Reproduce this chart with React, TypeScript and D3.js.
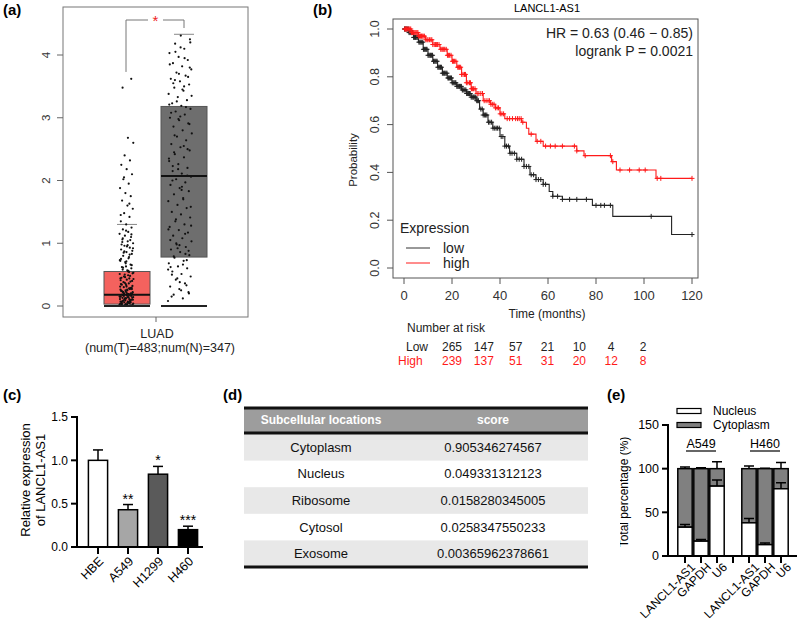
import { useEffect, useRef } from "react";
import * as d3 from "d3";

const FONT = "'Liberation Sans', Arial, Helvetica, sans-serif";

// (a) box plot, tumour vs normal
const boxGroups = ["T", "N"];
const boxFill = ["#f4625e", "#6e6e6e"];
const boxQ1 = [0.03, 0.78];
const boxMedian = [0.18, 2.07];
const boxQ3 = [0.55, 3.18];
const boxUpper = [1.3, 4.33];
const boxTicks = [0, 1, 2, 3, 4];
const tumorPoints = [
  0.02, 0.05, 0.08, 0.1, 0.12, 0.15, 0.18, 0.2, 0.22, 0.25, 0.03, 0.06, 0.09, 0.11, 0.14, 0.17, 0.19, 0.21,
  0.24, 0.27, 0.01, 0.04, 0.07, 0.13, 0.16, 0.23, 0.26, 0.28, 0.3, 0.32, 0.02, 0.05, 0.08, 0.12, 0.15, 0.19,
  0.22, 0.29, 0.33, 0.35, 0.04, 0.06, 0.1, 0.14, 0.18, 0.2, 0.25, 0.31, 0.36, 0.38, 0.4, 0.42, 0.45, 0.48,
  0.5, 0.53, 0.55, 0.58, 0.6, 0.63, 0.41, 0.44, 0.47, 0.52, 0.57, 0.62, 0.66, 0.7, 0.73, 0.76, 0.8, 0.83,
  0.86, 0.9, 0.93, 0.96, 1.0, 1.03, 1.06, 1.1, 0.68, 0.72, 0.78, 0.85, 0.88, 0.95, 0.98, 1.05, 1.12, 1.15,
  1.18, 1.22, 1.25, 1.3, 1.35, 1.42, 1.48, 1.55, 1.6, 1.68, 1.75, 1.8, 1.88, 1.95, 2.02, 2.1, 2.18, 2.25,
  2.32, 2.4, 2.6, 2.68, 3.48, 3.62, 0.03, 0.07, 0.11, 0.16, 0.21, 0.26, 0.34, 0.39, 0.46, 0.51, 0.56, 0.61,
  0.65, 0.71, 0.75, 0.82, 0.87, 0.92, 0.97, 1.02, 0.01, 0.02, 0.04, 0.06, 0.09, 0.13, 0.17, 0.24, 0.28, 0.37,
  0.43, 0.49, 1.08, 1.14, 1.2, 1.45, 1.63, 2.05, 0.02, 0.05, 0.07, 0.1, 0.12, 0.15, 0.18, 0.22, 0.27, 0.31,
  0.03, 0.08, 0.11, 0.14, 0.19, 0.23, 0.29, 0.35, 0.44, 0.54,
];
const normalPoints = [
  0.08, 0.12, 0.18, 0.22, 0.27, 0.31, 0.36, 0.42, 0.47, 0.51, 0.55, 0.6, 0.63, 0.68, 0.72, 0.77, 0.81, 0.86,
  0.9, 0.94, 0.98, 1.03, 1.08, 1.12, 1.17, 1.21, 1.26, 1.3, 1.35, 1.41, 1.46, 1.5, 1.56, 1.61, 1.67, 1.72,
  1.78, 1.83, 1.88, 1.93, 1.97, 2.02, 2.06, 2.11, 2.15, 2.2, 2.26, 2.31, 2.37, 2.42, 2.48, 2.53, 2.58, 2.64,
  2.7, 2.75, 2.8, 2.86, 2.91, 2.96, 3.0, 3.05, 3.1, 3.14, 3.19, 3.23, 3.28, 3.33, 3.38, 3.43, 3.48, 3.53,
  3.58, 3.62, 3.67, 3.72, 3.77, 3.82, 3.87, 3.92, 3.97, 4.03, 4.1, 4.18, 4.25, 4.31, 0.15, 0.33, 0.44, 0.58,
  0.66, 0.79, 0.88, 0.97, 1.05, 1.15, 1.38, 1.58, 1.85, 2.0, 2.08, 2.18, 2.35, 2.55, 2.72, 2.9, 3.02, 3.08,
  3.17, 3.26, 3.35, 3.45, 3.55, 3.65, 3.7, 3.85, 3.95, 4.05, 4.2, 0.25, 0.5, 0.73, 0.92, 1.22, 1.7, 2.45,
  0.2, 0.38, 0.62, 0.83, 1.0, 1.28, 1.9, 2.23, 2.5, 2.98, 3.21, 3.5, 3.6, 3.8, 4.12,
];

// (b) Kaplan-Meier
const kmTicksX = [0, 20, 40, 60, 80, 100, 120];
const kmTicksY = [0, 0.2, 0.4, 0.6, 0.8, 1.0];
const lowTime = [0, 2, 4, 6, 8, 10, 12, 14, 16, 18, 20, 22, 24, 26, 28, 30, 31.5, 33, 35, 37, 40, 42, 44, 47, 50, 52.5, 55, 58, 60.5, 62, 66, 78.5, 87, 111.5];
const lowSurv = [1, 0.985, 0.965, 0.945, 0.915, 0.89, 0.865, 0.84, 0.815, 0.795, 0.775, 0.76, 0.745, 0.73, 0.715, 0.7, 0.665, 0.64, 0.61, 0.585, 0.55, 0.51, 0.48, 0.455, 0.425, 0.39, 0.37, 0.35, 0.32, 0.3, 0.287, 0.262, 0.216, 0.14];
const highTime = [0, 3, 6, 9, 12, 15, 18, 20, 22, 24, 26, 28, 30, 33, 36, 38, 40, 42, 49, 51, 52, 55, 58, 72, 75, 86.5, 88.5, 105];
const highSurv = [1, 0.985, 0.97, 0.955, 0.935, 0.915, 0.89, 0.865, 0.84, 0.81, 0.775, 0.75, 0.73, 0.7, 0.685, 0.67, 0.645, 0.625, 0.61, 0.585, 0.56, 0.53, 0.51, 0.49, 0.47, 0.445, 0.41, 0.375];
const lowCensor = [
  0.2, 0.4, 0.7, 1, 1.4, 1.8, 2.1, 2.5, 2.9, 3.3, 3.6, 4, 4.4, 4.8, 5.1, 5.5, 5.9, 6.2, 6.6, 7, 7.4, 7.8, 8.1,
  8.5, 8.9, 9.3, 9.6, 10, 10.4, 10.8, 11.1, 11.5, 11.9, 12.3, 12.6, 13, 13.4, 13.8, 14.1, 14.5, 14.9, 15.2,
  15.6, 16, 16.4, 16.8, 17.1, 17.5, 17.9, 18.3, 18.6, 19, 19.4, 19.8, 20.1, 20.5, 20.9, 21.3, 21.6, 22, 22.4,
  22.8, 23.1, 23.5, 23.9, 24.3, 24.6, 25, 25.4, 25.8, 26.1, 26.5, 26.9, 27.3, 27.6, 28, 28.4, 28.8, 29.1,
  29.5, 29.9, 30.3, 30.7, 31, 32, 32.6, 33, 33.6, 34, 34.5, 35.2, 35.8, 36.5, 37.1, 37.8, 38.4, 39, 39.7,
  40.5, 41.2, 42, 42.7, 43.5, 44.2, 45, 46, 47, 48, 49, 50, 51, 52, 53, 54, 55, 56, 57, 58, 59, 62, 64, 66,
  69, 72, 76, 80, 82, 83.5, 86, 103, 120,
];
const highCensor = [
  0.3, 0.6, 1, 1.3, 1.7, 2, 2.4, 2.8, 3.1, 3.5, 3.9, 4.2, 4.6, 5, 5.4, 5.8, 6.1, 6.5, 6.9, 7.3, 7.6, 8, 8.5,
  9.1, 9.6, 10, 10.6, 11.2, 11.6, 12, 12.6, 13.1, 13.6, 14, 14.6, 15.3, 15.8, 16.2, 16.6, 17, 17.6, 18.1,
  18.5, 19, 19.6, 20.2, 20.6, 21, 21.6, 22.4, 22.8, 23.1, 23.6, 24, 24.6, 25.2, 25.6, 26, 26.6, 27.3, 27.7,
  28.1, 28.6, 29, 29.6, 30.5, 31.2, 32, 32.7, 33.4, 34.2, 35, 35.6, 36.2, 36.8, 37.5, 38.1, 38.8, 39.4, 40.1,
  40.8, 41.5, 43, 44, 45.2, 46.5, 47.3, 48, 48.8, 49.5, 53, 55.5, 57, 59, 61, 63, 66, 71, 72, 75.5, 86, 87,
  90, 94, 98, 100.5, 105.5, 107, 120,
];
const riskLow = [265, 147, 57, 21, 10, 4, 2];
const riskHigh = [239, 137, 51, 31, 20, 12, 8];

// (c) qPCR
const cellLines = ["HBE", "A549", "H1299", "H460"];
const cellExpr = [1.0, 0.43, 0.84, 0.2];
const cellErr = [0.12, 0.06, 0.09, 0.04];
const cellStars = ["", "**", "*", "***"];
const cellFill = ["#ffffff", "#a6a6a6", "#5a5a5a", "#000000"];
const cellTicks = [0, 0.5, 1.0, 1.5];

// (d) lncLocator table
const locations = ["Cytoplasm", "Nucleus", "Ribosome", "Cytosol", "Exosome"];
const locScores = ["0.905346274567", "0.049331312123", "0.0158280345005", "0.0258347550233", "0.00365962378661"];

// (e) nuclear / cytoplasmic fractions
const fracCats = ["A549 LANCL1-AS1", "A549 GAPDH", "A549 U6", "gap", "H460 LANCL1-AS1", "H460 GAPDH", "H460 U6"];
const fracLabels = ["LANCL1-AS1", "GAPDH", "U6", "", "LANCL1-AS1", "GAPDH", "U6"];
const nucleusPct = [33, 17, 80, null, 38, 13, 77];
const nucleusErr = [3, 2, 7, null, 5, 2, 7];
const cytoErr = [2, 1, 8, null, 3, 0.5, 7];
const fracTicks = [0, 50, 100, 150];
const fracGroups = ["A549", "H460"];

type Sel = d3.Selection<SVGSVGElement, unknown, null, undefined>;

function panelLabel(svg: Sel, txt: string, x: number, y: number) {
  svg.append("text").attr("x", x).attr("y", y).attr("font-size", 15).attr("font-weight", "bold").text(txt);
}

function drawBox(svg: Sel) {
  const y = d3.scaleLinear().domain([0, 4]).range([306, 55]);
  const x = d3.scalePoint().domain(boxGroups).range([127, 184]);
  const g = svg.append("g");
  const bw = 46;

  g.append("rect").attr("x", 63).attr("y", 7).attr("width", 185).attr("height", 310)
    .attr("fill", "none").attr("stroke", "#777");

  boxTicks.forEach(t => {
    g.append("line").attr("x1", 57).attr("x2", 63).attr("y1", y(t)).attr("y2", y(t)).attr("stroke", "#666");
    g.append("text").attr("transform", `translate(46,${y(t)}) rotate(-90)`).attr("dy", "0.35em")
      .attr("text-anchor", "middle").attr("font-size", 11.5).attr("fill", "#333").text(t);
  });

  boxGroups.forEach((k, i) => {
    const cx = x(k)!;
    g.append("rect").attr("x", cx - bw / 2).attr("y", y(boxQ3[i])).attr("width", bw)
      .attr("height", y(boxQ1[i]) - y(boxQ3[i])).attr("fill", boxFill[i]).attr("stroke", "#555");
    g.append("line").attr("x1", cx - 10).attr("x2", cx + 10).attr("y1", y(boxUpper[i])).attr("y2", y(boxUpper[i]))
      .attr("stroke", "#888");
  });

  const pts = [tumorPoints, normalPoints];
  const jitC = [126.5, 180];
  const jitW = [14, 24];
  pts.forEach((arr, gi) => {
    g.selectAll(null).data(arr).enter().append("circle")
      .attr("cx", (d, i) => jitC[gi] + (((i * 0.618034) % 1) - 0.5) * jitW[gi])
      .attr("cy", d => y(d)).attr("r", 1.1).attr("fill", "#111");
  });

  boxGroups.forEach((k, i) => {
    const cx = x(k)!;
    g.append("line").attr("x1", cx - bw / 2).attr("x2", cx + bw / 2).attr("y1", y(boxMedian[i])).attr("y2", y(boxMedian[i]))
      .attr("stroke", "#111").attr("stroke-width", 2);
    g.append("line").attr("x1", cx - bw / 2).attr("x2", cx + bw / 2).attr("y1", y(0)).attr("y2", y(0))
      .attr("stroke", "#222").attr("stroke-width", 2);
  });

  // significance bracket
  const top = 20;
  g.append("path").attr("d", `M126,${y(3.73)}V${top}H148`).attr("fill", "none").attr("stroke", "#777");
  g.append("path").attr("d", `M163,${top}H184V${y(4.43)}`).attr("fill", "none").attr("stroke", "#777");
  g.append("text").attr("x", 155.5).attr("y", top + 6).attr("text-anchor", "middle").attr("font-size", 15)
    .attr("fill", "#ee2222").text("*");

  g.append("line").attr("x1", 156).attr("x2", 156).attr("y1", 317).attr("y2", 322).attr("stroke", "#666");
  g.append("text").attr("x", 157).attr("y", 338).attr("text-anchor", "middle").attr("font-size", 12.5).attr("fill", "#222").text("LUAD");
  g.append("text").attr("x", 160).attr("y", 352).attr("text-anchor", "middle").attr("font-size", 12.5).attr("fill", "#222")
    .text("(num(T)=483;num(N)=347)");
}

function drawKM(svg: Sel) {
  const x = d3.scaleLinear().domain([0, 120]).range([404, 692]);
  const y = d3.scaleLinear().domain([0, 1]).range([268, 29]);
  const g = svg.append("g");

  g.append("rect").attr("x", 393).attr("y", 19).attr("width", 305).attr("height", 259)
    .attr("fill", "none").attr("stroke", "#555");
  kmTicksY.forEach(t => {
    g.append("line").attr("x1", 387).attr("x2", 393).attr("y1", y(t)).attr("y2", y(t)).attr("stroke", "#555");
    g.append("text").attr("transform", `translate(375,${y(t)}) rotate(-90)`).attr("dy", "0.35em")
      .attr("text-anchor", "middle").attr("font-size", 12.5).attr("fill", "#333").text(t.toFixed(1));
  });
  kmTicksX.forEach(t => {
    g.append("line").attr("x1", x(t)).attr("x2", x(t)).attr("y1", 278).attr("y2", 284).attr("stroke", "#555");
    g.append("text").attr("x", x(t)).attr("y", 300).attr("text-anchor", "middle").attr("font-size", 13)
      .attr("fill", "#333").text(t);
  });

  const series = [
    { t: lowTime, s: lowSurv, c: lowCensor, col: "#222" },
    { t: highTime, s: highSurv, c: highCensor, col: "#ff1a1a" },
  ];
  const line = d3.line<[number, number]>().x(d => x(d[0])).y(d => y(d[1])).curve(d3.curveStepAfter);
  series.forEach(sr => {
    const pts: [number, number][] = sr.t.map((t, i) => [t, sr.s[i]]);
    pts.push([120, sr.s[sr.s.length - 1]]);
    g.append("path").attr("d", line(pts)).attr("fill", "none").attr("stroke", sr.col).attr("stroke-width", 1.1);
    sr.c.forEach(ct => {
      const idx = Math.max(0, d3.bisectRight(sr.t, ct) - 1);
      const cx = x(ct), cy = y(sr.s[idx]);
      g.append("path").attr("d", `M${cx - 2.5},${cy}H${cx + 2.5}M${cx},${cy - 2.5}V${cy + 2.5}`)
        .attr("stroke", sr.col).attr("stroke-width", 1);
    });
  });

  g.append("text").attr("x", 547).attr("y", 12).attr("text-anchor", "middle").attr("font-size", 11).text("LANCL1-AS1");
  g.append("text").attr("x", 693).attr("y", 38).attr("text-anchor", "end").attr("font-size", 14).attr("fill", "#222")
    .text("HR = 0.63 (0.46 \u2212 0.85)");
  g.append("text").attr("x", 693).attr("y", 56).attr("text-anchor", "end").attr("font-size", 14).attr("fill", "#222")
    .text("logrank P = 0.0021");

  g.append("text").attr("x", 400).attr("y", 233).attr("font-size", 14).attr("fill", "#222").text("Expression");
  [["low", "#333"], ["high", "#ff1a1a"]].forEach(([lab, col], i) => {
    const ly = 248 + i * 15;
    g.append("line").attr("x1", 406).attr("x2", 430).attr("y1", ly).attr("y2", ly).attr("stroke", col);
    g.append("text").attr("x", 443).attr("y", ly + 5).attr("font-size", 14).attr("fill", "#222").text(lab);
  });

  g.append("text").attr("transform", "translate(353,160) rotate(-90)").attr("dy", "0.35em")
    .attr("text-anchor", "middle").attr("font-size", 11.5).attr("fill", "#222").text("Probability");
  g.append("text").attr("x", 547).attr("y", 318).attr("text-anchor", "middle").attr("font-size", 12).attr("fill", "#222")
    .text("Time (months)");
  g.append("text").attr("x", 407).attr("y", 332).attr("font-size", 12).attr("fill", "#222").text("Number at risk");

  const rx = d3.scalePoint<number>().domain(d3.range(riskLow.length)).range([452, 643]);
  g.append("text").attr("x", 406).attr("y", 351).attr("font-size", 12).attr("fill", "#222").text("Low");
  g.append("text").attr("x", 398).attr("y", 365).attr("font-size", 12).attr("fill", "#ff1a1a").text("High");
  riskLow.forEach((v, i) => {
    g.append("text").attr("x", rx(i)!).attr("y", 351).attr("text-anchor", "middle").attr("font-size", 12).attr("fill", "#222").text(v);
    g.append("text").attr("x", rx(i)!).attr("y", 365).attr("text-anchor", "middle").attr("font-size", 12)
      .attr("fill", "#ff1a1a").text(riskHigh[i]);
  });
}

function drawBars(svg: Sel) {
  const y = d3.scaleLinear().domain([0, 1.5]).range([547, 417]);
  const x = d3.scaleBand().domain(cellLines).range([83, 203]).paddingInner(0.36).paddingOuter(0.18);
  const g = svg.append("g");

  cellLines.forEach((c, i) => {
    const bx = x(c)!, w = x.bandwidth(), cx = bx + w / 2;
    const top = y(cellExpr[i]), et = y(cellExpr[i] + cellErr[i]);
    g.append("line").attr("x1", cx).attr("x2", cx).attr("y1", top).attr("y2", et).attr("stroke", "#000").attr("stroke-width", 1.5);
    g.append("line").attr("x1", cx - 5).attr("x2", cx + 5).attr("y1", et).attr("y2", et).attr("stroke", "#000").attr("stroke-width", 1.5);
    g.append("rect").attr("x", bx).attr("y", top).attr("width", w).attr("height", y(0) - top)
      .attr("fill", cellFill[i]).attr("stroke", "#000").attr("stroke-width", 1.5);
    if (cellStars[i]) {
      g.append("text").attr("x", cx).attr("y", et - 1).attr("text-anchor", "middle").attr("font-size", 14).text(cellStars[i]);
    }
    g.append("line").attr("x1", cx).attr("x2", cx).attr("y1", 547).attr("y2", 554).attr("stroke", "#000").attr("stroke-width", 2);
    g.append("text").attr("transform", `translate(${cx + 3},559) rotate(-45)`).attr("dy", "0.35em")
      .attr("text-anchor", "end").attr("font-size", 12.5).text(c);
  });

  g.append("line").attr("x1", 77).attr("x2", 77).attr("y1", 416).attr("y2", 548).attr("stroke", "#000").attr("stroke-width", 2);
  g.append("line").attr("x1", 76).attr("x2", 203).attr("y1", 547).attr("y2", 547).attr("stroke", "#000").attr("stroke-width", 2);
  cellTicks.forEach(t => {
    g.append("line").attr("x1", 71).attr("x2", 77).attr("y1", y(t)).attr("y2", y(t)).attr("stroke", "#000").attr("stroke-width", 2);
    g.append("text").attr("x", 68).attr("y", y(t)).attr("dy", "0.35em").attr("text-anchor", "end").attr("font-size", 12)
      .text(t.toFixed(1));
  });
  ["Relative expression", "of LANCL1-AS1"].forEach((s, i) => {
    g.append("text").attr("transform", `translate(${25 + i * 15},480) rotate(-90)`).attr("dy", "0.35em")
      .attr("text-anchor", "middle").attr("font-size", 13).text(s);
  });
}

function drawTable(svg: Sel) {
  const g = svg.append("g");
  const x0 = 244, x1 = 588;
  const colX = [321, 493];
  const rows = d3.scaleBand<number>().domain(d3.range(locations.length)).range([434, 567]);

  g.append("rect").attr("x", x0).attr("y", 407).attr("width", x1 - x0).attr("height", 26).attr("fill", "#9d9d9d");
  locations.forEach((loc, i) => {
    const ry = rows(i)!;
    if (i % 2 === 0) {
      g.append("rect").attr("x", x0).attr("y", ry).attr("width", x1 - x0).attr("height", rows.bandwidth()).attr("fill", "#e8e8e8");
    }
    const cy = ry + rows.bandwidth() / 2;
    g.append("text").attr("x", colX[0]).attr("y", cy).attr("dy", "0.35em").attr("text-anchor", "middle")
      .attr("font-size", 13).attr("fill", "#111").text(loc);
    g.append("text").attr("x", colX[1]).attr("y", cy).attr("dy", "0.35em").attr("text-anchor", "middle")
      .attr("font-size", 13).attr("fill", "#111").text(locScores[i]);
  });
  ["Subcellular locations", "score"].forEach((h, i) => {
    g.append("text").attr("x", colX[i]).attr("y", 420).attr("dy", "0.35em").attr("text-anchor", "middle")
      .attr("font-size", 12).attr("font-weight", "bold").attr("fill", "#fff").text(h);
  });
  [408, 433, 567].forEach(ly => {
    g.append("line").attr("x1", x0).attr("x2", x1).attr("y1", ly).attr("y2", ly).attr("stroke", "#111").attr("stroke-width", 3);
  });
}

function drawFractions(svg: Sel) {
  const y = d3.scaleLinear().domain([0, 150]).range([556, 425]);
  const x = d3.scaleBand().domain(fracCats).range([677, 789]).paddingInner(0.1).paddingOuter(0.05);
  svg.append("clipPath").attr("id", "clipE").append("rect").attr("x", 620).attr("y", 360).attr("width", 180).attr("height", 268);
  const g = svg.append("g").attr("clip-path", "url(#clipE)");

  fracCats.forEach((c, i) => {
    const cx = x(c)! + x.bandwidth() / 2;
    g.append("line").attr("x1", cx).attr("x2", cx).attr("y1", 556).attr("y2", 563).attr("stroke", "#000").attr("stroke-width", 2);
    const n = nucleusPct[i];
    if (n == null) return;
    const bx = x(c)!, w = x.bandwidth();
    // cytoplasm error above 100
    const ce = y(100 + cytoErr[i]!);
    g.append("path").attr("d", `M${cx},${y(100)}V${ce}M${cx - 5},${ce}H${cx + 5}`).attr("stroke", "#000").attr("stroke-width", 1.5);
    g.append("rect").attr("x", bx).attr("y", y(100)).attr("width", w).attr("height", y(n) - y(100))
      .attr("fill", "#808080").attr("stroke", "#000").attr("stroke-width", 1.5);
    const ne = y(n + nucleusErr[i]!);
    g.append("path").attr("d", `M${cx},${y(n)}V${ne}M${cx - 5},${ne}H${cx + 5}`).attr("stroke", "#000").attr("stroke-width", 1.5);
    g.append("rect").attr("x", bx).attr("y", y(n)).attr("width", w).attr("height", y(0) - y(n))
      .attr("fill", "#fff").attr("stroke", "#000").attr("stroke-width", 1.5);
    g.append("text").attr("transform", `translate(${cx + 8},565) rotate(-45)`).attr("dy", "0.35em")
      .attr("text-anchor", "end").attr("font-size", 12).text(fracLabels[i]);
  });

  g.append("line").attr("x1", 668).attr("x2", 668).attr("y1", 424).attr("y2", 557).attr("stroke", "#000").attr("stroke-width", 2);
  g.append("line").attr("x1", 667).attr("x2", 797).attr("y1", 556).attr("y2", 556).attr("stroke", "#000").attr("stroke-width", 2);
  fracTicks.forEach(t => {
    g.append("line").attr("x1", 662).attr("x2", 668).attr("y1", y(t)).attr("y2", y(t)).attr("stroke", "#000").attr("stroke-width", 2);
    g.append("text").attr("x", 659).attr("y", y(t)).attr("dy", "0.35em").attr("text-anchor", "end").attr("font-size", 12.5).text(t);
  });
  g.append("text").attr("transform", "translate(624,492) rotate(-90)").attr("dy", "0.35em")
    .attr("text-anchor", "middle").attr("font-size", 12).text("Total percentage (%)");

  // group labels
  fracGroups.forEach((grp, gi) => {
    const first = x(fracCats[gi * 4])!, last = x(fracCats[gi * 4 + 2])! + x.bandwidth();
    const cx = (first + last) / 2;
    g.append("text").attr("x", cx).attr("y", 448).attr("text-anchor", "middle").attr("font-size", 12.5).text(grp);
    g.append("line").attr("x1", cx - 15).attr("x2", cx + 15).attr("y1", 451).attr("y2", 451).attr("stroke", "#000").attr("stroke-width", 1.2);
  });

  // legend
  [["Nucleus", "#fff"], ["Cytoplasm", "#808080"]].forEach(([lab, col], i) => {
    const ly = 411 + i * 14;
    g.append("rect").attr("x", 677).attr("y", ly - 2.5).attr("width", 24).attr("height", 5).attr("fill", col)
      .attr("stroke", "#000").attr("stroke-width", 1.2);
    g.append("text").attr("x", 713).attr("y", ly).attr("dy", "0.35em").attr("font-size", 12).text(lab);
  });
}

export default function App() {
  const svgRef = useRef<SVGSVGElement>(null);

  useEffect(() => {
    const svg = d3.select(svgRef.current!) as Sel;
    svg.selectAll("*").remove();
    svg.append("rect").attr("width", 800).attr("height", 628).attr("fill", "#fff");

    drawBox(svg);
    drawKM(svg);
    drawBars(svg);
    drawTable(svg);
    drawFractions(svg);

    panelLabel(svg, "(a)", 3, 15);
    panelLabel(svg, "(b)", 313, 15);
    panelLabel(svg, "(c)", 3, 400);
    panelLabel(svg, "(d)", 223, 400);
    panelLabel(svg, "(e)", 607, 400);
  }, []);

  return (
    <svg ref={svgRef} width={800} height={628} fontFamily={FONT}
      style={{ position: "absolute", left: 0, top: 0 }} />
  );
}
